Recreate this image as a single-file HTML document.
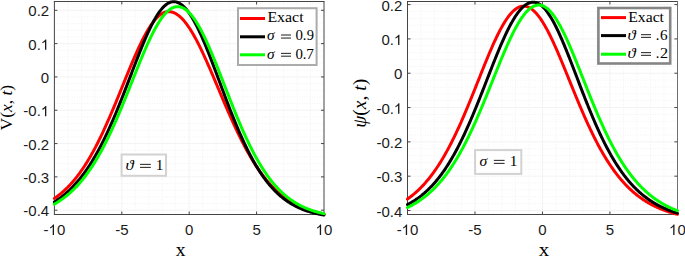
<!DOCTYPE html>
<html><head><meta charset="utf-8"><style>
html,body{margin:0;padding:0;background:#fff;}
body{width:685px;height:256px;overflow:hidden;}
svg{display:block;}
.tk{font-family:"Liberation Sans",sans-serif;font-size:15px;fill:#1a1a1a;}
</style></head><body>
<svg width="685" height="256" viewBox="0 0 685 256">
<rect width="685" height="256" fill="#fff"/>
<line x1="67.88" y1="1.5" x2="67.88" y2="214.5" stroke="#f2f2f2" stroke-dasharray="1 1.5"/>
<line x1="81.36" y1="1.5" x2="81.36" y2="214.5" stroke="#f2f2f2" stroke-dasharray="1 1.5"/>
<line x1="94.84" y1="1.5" x2="94.84" y2="214.5" stroke="#f2f2f2" stroke-dasharray="1 1.5"/>
<line x1="108.32" y1="1.5" x2="108.32" y2="214.5" stroke="#f2f2f2" stroke-dasharray="1 1.5"/>
<line x1="135.28" y1="1.5" x2="135.28" y2="214.5" stroke="#f2f2f2" stroke-dasharray="1 1.5"/>
<line x1="148.76" y1="1.5" x2="148.76" y2="214.5" stroke="#f2f2f2" stroke-dasharray="1 1.5"/>
<line x1="162.24" y1="1.5" x2="162.24" y2="214.5" stroke="#f2f2f2" stroke-dasharray="1 1.5"/>
<line x1="175.72" y1="1.5" x2="175.72" y2="214.5" stroke="#f2f2f2" stroke-dasharray="1 1.5"/>
<line x1="202.68" y1="1.5" x2="202.68" y2="214.5" stroke="#f2f2f2" stroke-dasharray="1 1.5"/>
<line x1="216.16" y1="1.5" x2="216.16" y2="214.5" stroke="#f2f2f2" stroke-dasharray="1 1.5"/>
<line x1="229.64" y1="1.5" x2="229.64" y2="214.5" stroke="#f2f2f2" stroke-dasharray="1 1.5"/>
<line x1="243.12" y1="1.5" x2="243.12" y2="214.5" stroke="#f2f2f2" stroke-dasharray="1 1.5"/>
<line x1="270.08" y1="1.5" x2="270.08" y2="214.5" stroke="#f2f2f2" stroke-dasharray="1 1.5"/>
<line x1="283.56" y1="1.5" x2="283.56" y2="214.5" stroke="#f2f2f2" stroke-dasharray="1 1.5"/>
<line x1="297.04" y1="1.5" x2="297.04" y2="214.5" stroke="#f2f2f2" stroke-dasharray="1 1.5"/>
<line x1="310.52" y1="1.5" x2="310.52" y2="214.5" stroke="#f2f2f2" stroke-dasharray="1 1.5"/>
<line x1="54.4" y1="203.54" x2="324.0" y2="203.54" stroke="#f2f2f2" stroke-dasharray="1 1.5"/>
<line x1="54.4" y1="196.87" x2="324.0" y2="196.87" stroke="#f2f2f2" stroke-dasharray="1 1.5"/>
<line x1="54.4" y1="190.21" x2="324.0" y2="190.21" stroke="#f2f2f2" stroke-dasharray="1 1.5"/>
<line x1="54.4" y1="183.55" x2="324.0" y2="183.55" stroke="#f2f2f2" stroke-dasharray="1 1.5"/>
<line x1="54.4" y1="170.22" x2="324.0" y2="170.22" stroke="#f2f2f2" stroke-dasharray="1 1.5"/>
<line x1="54.4" y1="163.56" x2="324.0" y2="163.56" stroke="#f2f2f2" stroke-dasharray="1 1.5"/>
<line x1="54.4" y1="156.89" x2="324.0" y2="156.89" stroke="#f2f2f2" stroke-dasharray="1 1.5"/>
<line x1="54.4" y1="150.23" x2="324.0" y2="150.23" stroke="#f2f2f2" stroke-dasharray="1 1.5"/>
<line x1="54.4" y1="136.90" x2="324.0" y2="136.90" stroke="#f2f2f2" stroke-dasharray="1 1.5"/>
<line x1="54.4" y1="130.24" x2="324.0" y2="130.24" stroke="#f2f2f2" stroke-dasharray="1 1.5"/>
<line x1="54.4" y1="123.58" x2="324.0" y2="123.58" stroke="#f2f2f2" stroke-dasharray="1 1.5"/>
<line x1="54.4" y1="116.91" x2="324.0" y2="116.91" stroke="#f2f2f2" stroke-dasharray="1 1.5"/>
<line x1="54.4" y1="103.59" x2="324.0" y2="103.59" stroke="#f2f2f2" stroke-dasharray="1 1.5"/>
<line x1="54.4" y1="96.92" x2="324.0" y2="96.92" stroke="#f2f2f2" stroke-dasharray="1 1.5"/>
<line x1="54.4" y1="90.26" x2="324.0" y2="90.26" stroke="#f2f2f2" stroke-dasharray="1 1.5"/>
<line x1="54.4" y1="83.60" x2="324.0" y2="83.60" stroke="#f2f2f2" stroke-dasharray="1 1.5"/>
<line x1="54.4" y1="70.27" x2="324.0" y2="70.27" stroke="#f2f2f2" stroke-dasharray="1 1.5"/>
<line x1="54.4" y1="63.61" x2="324.0" y2="63.61" stroke="#f2f2f2" stroke-dasharray="1 1.5"/>
<line x1="54.4" y1="56.94" x2="324.0" y2="56.94" stroke="#f2f2f2" stroke-dasharray="1 1.5"/>
<line x1="54.4" y1="50.28" x2="324.0" y2="50.28" stroke="#f2f2f2" stroke-dasharray="1 1.5"/>
<line x1="54.4" y1="36.95" x2="324.0" y2="36.95" stroke="#f2f2f2" stroke-dasharray="1 1.5"/>
<line x1="54.4" y1="30.29" x2="324.0" y2="30.29" stroke="#f2f2f2" stroke-dasharray="1 1.5"/>
<line x1="54.4" y1="23.63" x2="324.0" y2="23.63" stroke="#f2f2f2" stroke-dasharray="1 1.5"/>
<line x1="54.4" y1="16.96" x2="324.0" y2="16.96" stroke="#f2f2f2" stroke-dasharray="1 1.5"/>
<line x1="54.4" y1="3.64" x2="324.0" y2="3.64" stroke="#f2f2f2" stroke-dasharray="1 1.5"/>
<line x1="121.80" y1="1.5" x2="121.80" y2="214.5" stroke="#f3f3f3"/>
<line x1="189.20" y1="1.5" x2="189.20" y2="214.5" stroke="#f3f3f3"/>
<line x1="256.60" y1="1.5" x2="256.60" y2="214.5" stroke="#f3f3f3"/>
<line x1="54.4" y1="10.30" x2="324.0" y2="10.30" stroke="#f3f3f3"/>
<line x1="54.4" y1="43.62" x2="324.0" y2="43.62" stroke="#f3f3f3"/>
<line x1="54.4" y1="76.93" x2="324.0" y2="76.93" stroke="#f3f3f3"/>
<line x1="54.4" y1="110.25" x2="324.0" y2="110.25" stroke="#f3f3f3"/>
<line x1="54.4" y1="143.57" x2="324.0" y2="143.57" stroke="#f3f3f3"/>
<line x1="54.4" y1="176.88" x2="324.0" y2="176.88" stroke="#f3f3f3"/>
<line x1="54.4" y1="210.20" x2="324.0" y2="210.20" stroke="#f3f3f3"/>
<line x1="421.00" y1="1.5" x2="421.00" y2="214.5" stroke="#f2f2f2" stroke-dasharray="1 1.5"/>
<line x1="434.49" y1="1.5" x2="434.49" y2="214.5" stroke="#f2f2f2" stroke-dasharray="1 1.5"/>
<line x1="447.99" y1="1.5" x2="447.99" y2="214.5" stroke="#f2f2f2" stroke-dasharray="1 1.5"/>
<line x1="461.48" y1="1.5" x2="461.48" y2="214.5" stroke="#f2f2f2" stroke-dasharray="1 1.5"/>
<line x1="488.47" y1="1.5" x2="488.47" y2="214.5" stroke="#f2f2f2" stroke-dasharray="1 1.5"/>
<line x1="501.96" y1="1.5" x2="501.96" y2="214.5" stroke="#f2f2f2" stroke-dasharray="1 1.5"/>
<line x1="515.46" y1="1.5" x2="515.46" y2="214.5" stroke="#f2f2f2" stroke-dasharray="1 1.5"/>
<line x1="528.96" y1="1.5" x2="528.96" y2="214.5" stroke="#f2f2f2" stroke-dasharray="1 1.5"/>
<line x1="555.94" y1="1.5" x2="555.94" y2="214.5" stroke="#f2f2f2" stroke-dasharray="1 1.5"/>
<line x1="569.44" y1="1.5" x2="569.44" y2="214.5" stroke="#f2f2f2" stroke-dasharray="1 1.5"/>
<line x1="582.93" y1="1.5" x2="582.93" y2="214.5" stroke="#f2f2f2" stroke-dasharray="1 1.5"/>
<line x1="596.43" y1="1.5" x2="596.43" y2="214.5" stroke="#f2f2f2" stroke-dasharray="1 1.5"/>
<line x1="623.42" y1="1.5" x2="623.42" y2="214.5" stroke="#f2f2f2" stroke-dasharray="1 1.5"/>
<line x1="636.91" y1="1.5" x2="636.91" y2="214.5" stroke="#f2f2f2" stroke-dasharray="1 1.5"/>
<line x1="650.41" y1="1.5" x2="650.41" y2="214.5" stroke="#f2f2f2" stroke-dasharray="1 1.5"/>
<line x1="663.90" y1="1.5" x2="663.90" y2="214.5" stroke="#f2f2f2" stroke-dasharray="1 1.5"/>
<line x1="407.5" y1="203.64" x2="677.4" y2="203.64" stroke="#f2f2f2" stroke-dasharray="1 1.5"/>
<line x1="407.5" y1="196.77" x2="677.4" y2="196.77" stroke="#f2f2f2" stroke-dasharray="1 1.5"/>
<line x1="407.5" y1="189.91" x2="677.4" y2="189.91" stroke="#f2f2f2" stroke-dasharray="1 1.5"/>
<line x1="407.5" y1="183.05" x2="677.4" y2="183.05" stroke="#f2f2f2" stroke-dasharray="1 1.5"/>
<line x1="407.5" y1="169.32" x2="677.4" y2="169.32" stroke="#f2f2f2" stroke-dasharray="1 1.5"/>
<line x1="407.5" y1="162.46" x2="677.4" y2="162.46" stroke="#f2f2f2" stroke-dasharray="1 1.5"/>
<line x1="407.5" y1="155.59" x2="677.4" y2="155.59" stroke="#f2f2f2" stroke-dasharray="1 1.5"/>
<line x1="407.5" y1="148.73" x2="677.4" y2="148.73" stroke="#f2f2f2" stroke-dasharray="1 1.5"/>
<line x1="407.5" y1="135.00" x2="677.4" y2="135.00" stroke="#f2f2f2" stroke-dasharray="1 1.5"/>
<line x1="407.5" y1="128.14" x2="677.4" y2="128.14" stroke="#f2f2f2" stroke-dasharray="1 1.5"/>
<line x1="407.5" y1="121.28" x2="677.4" y2="121.28" stroke="#f2f2f2" stroke-dasharray="1 1.5"/>
<line x1="407.5" y1="114.41" x2="677.4" y2="114.41" stroke="#f2f2f2" stroke-dasharray="1 1.5"/>
<line x1="407.5" y1="100.69" x2="677.4" y2="100.69" stroke="#f2f2f2" stroke-dasharray="1 1.5"/>
<line x1="407.5" y1="93.82" x2="677.4" y2="93.82" stroke="#f2f2f2" stroke-dasharray="1 1.5"/>
<line x1="407.5" y1="86.96" x2="677.4" y2="86.96" stroke="#f2f2f2" stroke-dasharray="1 1.5"/>
<line x1="407.5" y1="80.10" x2="677.4" y2="80.10" stroke="#f2f2f2" stroke-dasharray="1 1.5"/>
<line x1="407.5" y1="66.37" x2="677.4" y2="66.37" stroke="#f2f2f2" stroke-dasharray="1 1.5"/>
<line x1="407.5" y1="59.51" x2="677.4" y2="59.51" stroke="#f2f2f2" stroke-dasharray="1 1.5"/>
<line x1="407.5" y1="52.64" x2="677.4" y2="52.64" stroke="#f2f2f2" stroke-dasharray="1 1.5"/>
<line x1="407.5" y1="45.78" x2="677.4" y2="45.78" stroke="#f2f2f2" stroke-dasharray="1 1.5"/>
<line x1="407.5" y1="32.05" x2="677.4" y2="32.05" stroke="#f2f2f2" stroke-dasharray="1 1.5"/>
<line x1="407.5" y1="25.19" x2="677.4" y2="25.19" stroke="#f2f2f2" stroke-dasharray="1 1.5"/>
<line x1="407.5" y1="18.33" x2="677.4" y2="18.33" stroke="#f2f2f2" stroke-dasharray="1 1.5"/>
<line x1="407.5" y1="11.46" x2="677.4" y2="11.46" stroke="#f2f2f2" stroke-dasharray="1 1.5"/>
<line x1="474.98" y1="1.5" x2="474.98" y2="214.5" stroke="#f3f3f3"/>
<line x1="542.45" y1="1.5" x2="542.45" y2="214.5" stroke="#f3f3f3"/>
<line x1="609.92" y1="1.5" x2="609.92" y2="214.5" stroke="#f3f3f3"/>
<line x1="407.5" y1="4.60" x2="677.4" y2="4.60" stroke="#f3f3f3"/>
<line x1="407.5" y1="38.92" x2="677.4" y2="38.92" stroke="#f3f3f3"/>
<line x1="407.5" y1="73.23" x2="677.4" y2="73.23" stroke="#f3f3f3"/>
<line x1="407.5" y1="107.55" x2="677.4" y2="107.55" stroke="#f3f3f3"/>
<line x1="407.5" y1="141.87" x2="677.4" y2="141.87" stroke="#f3f3f3"/>
<line x1="407.5" y1="176.18" x2="677.4" y2="176.18" stroke="#f3f3f3"/>
<line x1="407.5" y1="210.50" x2="677.4" y2="210.50" stroke="#f3f3f3"/>
<line x1="53.9" y1="1.5" x2="324.5" y2="1.5" stroke="#444444"/>
<line x1="53.9" y1="214.5" x2="324.5" y2="214.5" stroke="#444444"/>
<line x1="54.4" y1="1.5" x2="54.4" y2="214.5" stroke="#444444"/>
<line x1="324.0" y1="1.5" x2="324.0" y2="214.5" stroke="#444444"/>
<line x1="121.80" y1="214.5" x2="121.80" y2="211.5" stroke="#444444"/>
<line x1="121.80" y1="1.5" x2="121.80" y2="4.5" stroke="#444444"/>
<line x1="189.20" y1="214.5" x2="189.20" y2="211.5" stroke="#444444"/>
<line x1="189.20" y1="1.5" x2="189.20" y2="4.5" stroke="#444444"/>
<line x1="256.60" y1="214.5" x2="256.60" y2="211.5" stroke="#444444"/>
<line x1="256.60" y1="1.5" x2="256.60" y2="4.5" stroke="#444444"/>
<line x1="54.4" y1="10.30" x2="57.4" y2="10.30" stroke="#444444"/>
<line x1="324.0" y1="10.30" x2="321.0" y2="10.30" stroke="#444444"/>
<line x1="54.4" y1="43.62" x2="57.4" y2="43.62" stroke="#444444"/>
<line x1="324.0" y1="43.62" x2="321.0" y2="43.62" stroke="#444444"/>
<line x1="54.4" y1="76.93" x2="57.4" y2="76.93" stroke="#444444"/>
<line x1="324.0" y1="76.93" x2="321.0" y2="76.93" stroke="#444444"/>
<line x1="54.4" y1="110.25" x2="57.4" y2="110.25" stroke="#444444"/>
<line x1="324.0" y1="110.25" x2="321.0" y2="110.25" stroke="#444444"/>
<line x1="54.4" y1="143.57" x2="57.4" y2="143.57" stroke="#444444"/>
<line x1="324.0" y1="143.57" x2="321.0" y2="143.57" stroke="#444444"/>
<line x1="54.4" y1="176.88" x2="57.4" y2="176.88" stroke="#444444"/>
<line x1="324.0" y1="176.88" x2="321.0" y2="176.88" stroke="#444444"/>
<line x1="54.4" y1="210.20" x2="57.4" y2="210.20" stroke="#444444"/>
<line x1="324.0" y1="210.20" x2="321.0" y2="210.20" stroke="#444444"/>
<text x="28.35" y="16.40" class="tk">0</text><text x="36.69" y="16.40" class="tk">.</text><text x="40.86" y="16.40" class="tk">2</text>
<text x="28.35" y="49.72" class="tk">0</text><text x="36.69" y="49.72" class="tk">.</text><path transform="translate(40.86,49.72) scale(0.00732,-0.00732)" d="M745,0H565V1100Q500,1040 395,980Q290,920 206,890V1060Q357,1130 470,1230Q583,1330 630,1409H745Z" fill="#1a1a1a"/>
<text x="40.86" y="83.03" class="tk">0</text>
<text x="23.35" y="116.35" class="tk">-</text><text x="28.35" y="116.35" class="tk">0</text><text x="36.69" y="116.35" class="tk">.</text><path transform="translate(40.86,116.35) scale(0.00732,-0.00732)" d="M745,0H565V1100Q500,1040 395,980Q290,920 206,890V1060Q357,1130 470,1230Q583,1330 630,1409H745Z" fill="#1a1a1a"/>
<text x="23.35" y="149.67" class="tk">-</text><text x="28.35" y="149.67" class="tk">0</text><text x="36.69" y="149.67" class="tk">.</text><text x="40.86" y="149.67" class="tk">2</text>
<text x="23.35" y="182.98" class="tk">-</text><text x="28.35" y="182.98" class="tk">0</text><text x="36.69" y="182.98" class="tk">.</text><text x="40.86" y="182.98" class="tk">3</text>
<text x="23.35" y="216.30" class="tk">-</text><text x="28.35" y="216.30" class="tk">0</text><text x="36.69" y="216.30" class="tk">.</text><text x="40.86" y="216.30" class="tk">4</text>
<text x="43.56" y="234.90" class="tk">-</text><path transform="translate(48.56,234.90) scale(0.00732,-0.00732)" d="M745,0H565V1100Q500,1040 395,980Q290,920 206,890V1060Q357,1130 470,1230Q583,1330 630,1409H745Z" fill="#1a1a1a"/><text x="56.90" y="234.90" class="tk">0</text>
<text x="115.13" y="234.90" class="tk">-</text><text x="120.13" y="234.90" class="tk">5</text>
<text x="185.03" y="234.90" class="tk">0</text>
<text x="252.43" y="234.90" class="tk">5</text>
<path transform="translate(315.66,234.90) scale(0.00732,-0.00732)" d="M745,0H565V1100Q500,1040 395,980Q290,920 206,890V1060Q357,1130 470,1230Q583,1330 630,1409H745Z" fill="#1a1a1a"/><text x="324.00" y="234.90" class="tk">0</text>
<line x1="407.0" y1="1.5" x2="677.9" y2="1.5" stroke="#444444"/>
<line x1="407.0" y1="214.5" x2="677.9" y2="214.5" stroke="#444444"/>
<line x1="407.5" y1="1.5" x2="407.5" y2="214.5" stroke="#444444"/>
<line x1="677.5" y1="1.5" x2="677.5" y2="214.5" stroke="#707070"/>
<line x1="474.98" y1="214.5" x2="474.98" y2="211.5" stroke="#444444"/>
<line x1="474.98" y1="1.5" x2="474.98" y2="4.5" stroke="#444444"/>
<line x1="542.45" y1="214.5" x2="542.45" y2="211.5" stroke="#444444"/>
<line x1="542.45" y1="1.5" x2="542.45" y2="4.5" stroke="#444444"/>
<line x1="609.92" y1="214.5" x2="609.92" y2="211.5" stroke="#444444"/>
<line x1="609.92" y1="1.5" x2="609.92" y2="4.5" stroke="#444444"/>
<line x1="407.5" y1="4.60" x2="410.5" y2="4.60" stroke="#444444"/>
<line x1="677.4" y1="4.60" x2="674.4" y2="4.60" stroke="#444444"/>
<line x1="407.5" y1="38.92" x2="410.5" y2="38.92" stroke="#444444"/>
<line x1="677.4" y1="38.92" x2="674.4" y2="38.92" stroke="#444444"/>
<line x1="407.5" y1="73.23" x2="410.5" y2="73.23" stroke="#444444"/>
<line x1="677.4" y1="73.23" x2="674.4" y2="73.23" stroke="#444444"/>
<line x1="407.5" y1="107.55" x2="410.5" y2="107.55" stroke="#444444"/>
<line x1="677.4" y1="107.55" x2="674.4" y2="107.55" stroke="#444444"/>
<line x1="407.5" y1="141.87" x2="410.5" y2="141.87" stroke="#444444"/>
<line x1="677.4" y1="141.87" x2="674.4" y2="141.87" stroke="#444444"/>
<line x1="407.5" y1="176.18" x2="410.5" y2="176.18" stroke="#444444"/>
<line x1="677.4" y1="176.18" x2="674.4" y2="176.18" stroke="#444444"/>
<line x1="407.5" y1="210.50" x2="410.5" y2="210.50" stroke="#444444"/>
<line x1="677.4" y1="210.50" x2="674.4" y2="210.50" stroke="#444444"/>
<text x="381.45" y="10.70" class="tk">0</text><text x="389.79" y="10.70" class="tk">.</text><text x="393.96" y="10.70" class="tk">2</text>
<text x="381.45" y="45.02" class="tk">0</text><text x="389.79" y="45.02" class="tk">.</text><path transform="translate(393.96,45.02) scale(0.00732,-0.00732)" d="M745,0H565V1100Q500,1040 395,980Q290,920 206,890V1060Q357,1130 470,1230Q583,1330 630,1409H745Z" fill="#1a1a1a"/>
<text x="393.96" y="79.33" class="tk">0</text>
<text x="376.45" y="113.65" class="tk">-</text><text x="381.45" y="113.65" class="tk">0</text><text x="389.79" y="113.65" class="tk">.</text><path transform="translate(393.96,113.65) scale(0.00732,-0.00732)" d="M745,0H565V1100Q500,1040 395,980Q290,920 206,890V1060Q357,1130 470,1230Q583,1330 630,1409H745Z" fill="#1a1a1a"/>
<text x="376.45" y="147.97" class="tk">-</text><text x="381.45" y="147.97" class="tk">0</text><text x="389.79" y="147.97" class="tk">.</text><text x="393.96" y="147.97" class="tk">2</text>
<text x="376.45" y="182.28" class="tk">-</text><text x="381.45" y="182.28" class="tk">0</text><text x="389.79" y="182.28" class="tk">.</text><text x="393.96" y="182.28" class="tk">3</text>
<text x="376.45" y="216.60" class="tk">-</text><text x="381.45" y="216.60" class="tk">0</text><text x="389.79" y="216.60" class="tk">.</text><text x="393.96" y="216.60" class="tk">4</text>
<text x="396.66" y="234.90" class="tk">-</text><path transform="translate(401.66,234.90) scale(0.00732,-0.00732)" d="M745,0H565V1100Q500,1040 395,980Q290,920 206,890V1060Q357,1130 470,1230Q583,1330 630,1409H745Z" fill="#1a1a1a"/><text x="410.00" y="234.90" class="tk">0</text>
<text x="468.31" y="234.90" class="tk">-</text><text x="473.30" y="234.90" class="tk">5</text>
<text x="538.28" y="234.90" class="tk">0</text>
<text x="605.75" y="234.90" class="tk">5</text>
<path transform="translate(669.06,234.90) scale(0.00732,-0.00732)" d="M745,0H565V1100Q500,1040 395,980Q290,920 206,890V1060Q357,1130 470,1230Q583,1330 630,1409H745Z" fill="#1a1a1a"/><text x="677.40" y="234.90" class="tk">0</text>
<polyline points="54.40,198.38 55.07,197.92 55.75,197.45 56.42,196.96 57.10,196.47 57.77,195.96 58.44,195.45 59.12,194.92 59.79,194.39 60.47,193.84 61.14,193.29 61.81,192.72 62.49,192.14 63.16,191.55 63.84,190.94 64.51,190.33 65.18,189.70 65.86,189.06 66.53,188.41 67.21,187.75 67.88,187.07 68.55,186.38 69.23,185.68 69.90,184.97 70.58,184.24 71.25,183.50 71.92,182.75 72.60,181.98 73.27,181.20 73.95,180.40 74.62,179.59 75.29,178.77 75.97,177.93 76.64,177.08 77.32,176.22 77.99,175.33 78.66,174.44 79.34,173.53 80.01,172.61 80.69,171.67 81.36,170.71 82.03,169.74 82.71,168.76 83.38,167.76 84.06,166.74 84.73,165.71 85.40,164.67 86.08,163.60 86.75,162.53 87.43,161.44 88.10,160.33 88.77,159.20 89.45,158.07 90.12,156.91 90.80,155.74 91.47,154.56 92.14,153.35 92.82,152.14 93.49,150.91 94.17,149.66 94.84,148.40 95.51,147.12 96.19,145.83 96.86,144.52 97.54,143.20 98.21,141.86 98.88,140.51 99.56,139.15 100.23,137.77 100.91,136.37 101.58,134.97 102.25,133.54 102.93,132.11 103.60,130.66 104.28,129.20 104.95,127.73 105.62,126.24 106.30,124.74 106.97,123.23 107.65,121.71 108.32,120.18 108.99,118.64 109.67,117.08 110.34,115.52 111.02,113.95 111.69,112.36 112.36,110.77 113.04,109.17 113.71,107.57 114.39,105.95 115.06,104.33 115.73,102.70 116.41,101.07 117.08,99.42 117.76,97.78 118.43,96.13 119.10,94.48 119.78,92.82 120.45,91.16 121.13,89.50 121.80,87.84 122.47,86.18 123.15,84.51 123.82,82.85 124.50,81.19 125.17,79.53 125.84,77.87 126.52,76.22 127.19,74.57 127.87,72.93 128.54,71.29 129.21,69.65 129.89,68.03 130.56,66.41 131.24,64.80 131.91,63.20 132.58,61.61 133.26,60.03 133.93,58.47 134.61,56.91 135.28,55.37 135.95,53.84 136.63,52.33 137.30,50.84 137.98,49.36 138.65,47.89 139.32,46.45 140.00,45.03 140.67,43.62 141.35,42.24 142.02,40.87 142.69,39.53 143.37,38.21 144.04,36.92 144.72,35.65 145.39,34.41 146.06,33.19 146.74,32.00 147.41,30.83 148.09,29.70 148.76,28.59 149.43,27.51 150.11,26.46 150.78,25.45 151.46,24.46 152.13,23.51 152.80,22.59 153.48,21.71 154.15,20.86 154.83,20.04 155.50,19.26 156.17,18.51 156.85,17.80 157.52,17.13 158.20,16.49 158.87,15.90 159.54,15.34 160.22,14.81 160.89,14.33 161.57,13.89 162.24,13.48 162.91,13.11 163.59,12.79 164.26,12.50 164.94,12.26 165.61,12.05 166.28,11.89 166.96,11.77 167.63,11.68 168.31,11.64 168.98,11.64 169.65,11.67 170.33,11.75 171.00,11.85 171.68,12.00 172.35,12.18 173.02,12.39 173.70,12.65 174.37,12.94 175.05,13.26 175.72,13.62 176.39,14.01 177.07,14.44 177.74,14.91 178.42,15.40 179.09,15.94 179.76,16.50 180.44,17.10 181.11,17.74 181.79,18.40 182.46,19.10 183.13,19.83 183.81,20.59 184.48,21.39 185.16,22.21 185.83,23.06 186.50,23.95 187.18,24.86 187.85,25.80 188.53,26.77 189.20,27.77 189.87,28.80 190.55,29.85 191.22,30.93 191.90,32.03 192.57,33.16 193.24,34.31 193.92,35.49 194.59,36.69 195.27,37.91 195.94,39.16 196.61,40.42 197.29,41.71 197.96,43.02 198.64,44.34 199.31,45.69 199.98,47.05 200.66,48.43 201.33,49.82 202.01,51.23 202.68,52.66 203.35,54.10 204.03,55.56 204.70,57.03 205.38,58.51 206.05,60.00 206.72,61.51 207.40,63.02 208.07,64.55 208.75,66.08 209.42,67.63 210.09,69.18 210.77,70.74 211.44,72.30 212.12,73.87 212.79,75.45 213.46,77.03 214.14,78.62 214.81,80.20 215.49,81.80 216.16,83.39 216.83,84.99 217.51,86.58 218.18,88.18 218.86,89.78 219.53,91.37 220.20,92.97 220.88,94.56 221.55,96.16 222.23,97.75 222.90,99.33 223.57,100.91 224.25,102.49 224.92,104.07 225.60,105.63 226.27,107.20 226.94,108.75 227.62,110.30 228.29,111.85 228.97,113.38 229.64,114.91 230.31,116.43 230.99,117.95 231.66,119.45 232.34,120.94 233.01,122.43 233.68,123.90 234.36,125.37 235.03,126.82 235.71,128.27 236.38,129.70 237.05,131.12 237.73,132.53 238.40,133.93 239.08,135.32 239.75,136.69 240.42,138.05 241.10,139.40 241.77,140.74 242.45,142.06 243.12,143.37 243.79,144.67 244.47,145.95 245.14,147.22 245.82,148.48 246.49,149.72 247.16,150.95 247.84,152.17 248.51,153.37 249.19,154.56 249.86,155.73 250.53,156.89 251.21,158.03 251.88,159.16 252.56,160.28 253.23,161.38 253.90,162.47 254.58,163.54 255.25,164.60 255.93,165.64 256.60,166.67 257.27,167.68 257.95,168.68 258.62,169.67 259.30,170.64 259.97,171.60 260.64,172.54 261.32,173.47 261.99,174.38 262.67,175.28 263.34,176.17 264.01,177.04 264.69,177.90 265.36,178.75 266.04,179.58 266.71,180.40 267.38,181.20 268.06,181.99 268.73,182.77 269.41,183.54 270.08,184.29 270.75,185.03 271.43,185.75 272.10,186.47 272.78,187.17 273.45,187.86 274.12,188.53 274.80,189.20 275.47,189.85 276.15,190.49 276.82,191.12 277.49,191.73 278.17,192.34 278.84,192.93 279.52,193.52 280.19,194.09 280.86,194.65 281.54,195.20 282.21,195.74 282.89,196.26 283.56,196.78 284.23,197.29 284.91,197.79 285.58,198.28 286.26,198.75 286.93,199.22 287.60,199.68 288.28,200.13 288.95,200.57 289.63,201.00 290.30,201.42 290.97,201.84 291.65,202.24 292.32,202.64 293.00,203.02 293.67,203.40 294.34,203.77 295.02,204.14 295.69,204.49 296.37,204.84 297.04,205.18 297.71,205.51 298.39,205.84 299.06,206.15 299.74,206.47 300.41,206.77 301.08,207.07 301.76,207.36 302.43,207.64 303.11,207.92 303.78,208.19 304.45,208.45 305.13,208.71 305.80,208.97 306.48,209.21 307.15,209.45 307.82,209.69 308.50,209.92 309.17,210.14 309.85,210.36 310.52,210.58 311.19,210.79 311.87,210.99 312.54,211.19 313.22,211.38 313.89,211.57 314.56,211.76 315.24,211.94 315.91,212.12 316.59,212.29 317.26,212.46 317.93,212.62 318.61,212.78 319.28,212.94 319.96,213.09 320.63,213.24 321.30,213.38 321.98,213.52 322.65,213.66 323.33,213.79 324.00,213.92" fill="none" stroke="#ff0000" stroke-width="3" stroke-linejoin="round" stroke-linecap="round"/>
<polyline points="54.40,202.08 55.07,201.64 55.75,201.20 56.42,200.74 57.10,200.28 57.77,199.81 58.44,199.33 59.12,198.84 59.79,198.34 60.47,197.83 61.14,197.32 61.81,196.79 62.49,196.26 63.16,195.71 63.84,195.16 64.51,194.59 65.18,194.02 65.86,193.43 66.53,192.84 67.21,192.24 67.88,191.62 68.55,190.99 69.23,190.36 69.90,189.71 70.58,189.05 71.25,188.38 71.92,187.70 72.60,187.00 73.27,186.30 73.95,185.58 74.62,184.85 75.29,184.11 75.97,183.36 76.64,182.59 77.32,181.81 77.99,181.02 78.66,180.22 79.34,179.40 80.01,178.57 80.69,177.72 81.36,176.87 82.03,176.00 82.71,175.11 83.38,174.21 84.06,173.30 84.73,172.37 85.40,171.43 86.08,170.48 86.75,169.51 87.43,168.52 88.10,167.53 88.77,166.51 89.45,165.48 90.12,164.44 90.80,163.38 91.47,162.31 92.14,161.22 92.82,160.12 93.49,159.00 94.17,157.86 94.84,156.71 95.51,155.55 96.19,154.36 96.86,153.17 97.54,151.95 98.21,150.73 98.88,149.48 99.56,148.22 100.23,146.95 100.91,145.66 101.58,144.35 102.25,143.03 102.93,141.69 103.60,140.34 104.28,138.97 104.95,137.59 105.62,136.19 106.30,134.77 106.97,133.34 107.65,131.90 108.32,130.44 108.99,128.97 109.67,127.48 110.34,125.98 111.02,124.46 111.69,122.93 112.36,121.39 113.04,119.83 113.71,118.26 114.39,116.68 115.06,115.08 115.73,113.47 116.41,111.85 117.08,110.22 117.76,108.58 118.43,106.92 119.10,105.26 119.78,103.59 120.45,101.90 121.13,100.21 121.80,98.51 122.47,96.80 123.15,95.08 123.82,93.36 124.50,91.63 125.17,89.89 125.84,88.15 126.52,86.40 127.19,84.65 127.87,82.89 128.54,81.13 129.21,79.37 129.89,77.61 130.56,75.85 131.24,74.09 131.91,72.32 132.58,70.56 133.26,68.80 133.93,67.05 134.61,65.30 135.28,63.55 135.95,61.81 136.63,60.07 137.30,58.35 137.98,56.63 138.65,54.92 139.32,53.22 140.00,51.53 140.67,49.85 141.35,48.19 142.02,46.54 142.69,44.90 143.37,43.28 144.04,41.68 144.72,40.09 145.39,38.53 146.06,36.98 146.74,35.45 147.41,33.95 148.09,32.47 148.76,31.01 149.43,29.58 150.11,28.17 150.78,26.79 151.46,25.44 152.13,24.11 152.80,22.82 153.48,21.55 154.15,20.32 154.83,19.12 155.50,17.95 156.17,16.82 156.85,15.72 157.52,14.66 158.20,13.64 158.87,12.65 159.54,11.70 160.22,10.79 160.89,9.92 161.57,9.09 162.24,8.30 162.91,7.55 163.59,6.85 164.26,6.19 164.94,5.57 165.61,5.00 166.28,4.47 166.96,3.98 167.63,3.54 168.31,3.15 168.98,2.80 169.65,2.50 170.33,2.24 171.00,2.04 171.68,1.88 172.35,1.76 173.02,1.70 173.70,1.68 174.37,1.70 175.05,1.77 175.72,1.89 176.39,2.05 177.07,2.25 177.74,2.50 178.42,2.79 179.09,3.12 179.76,3.50 180.44,3.92 181.11,4.38 181.79,4.89 182.46,5.44 183.13,6.03 183.81,6.66 184.48,7.33 185.16,8.04 185.83,8.80 186.50,9.59 187.18,10.42 187.85,11.29 188.53,12.19 189.20,13.14 189.87,14.12 190.55,15.14 191.22,16.19 191.90,17.28 192.57,18.40 193.24,19.55 193.92,20.74 194.59,21.96 195.27,23.21 195.94,24.49 196.61,25.80 197.29,27.13 197.96,28.50 198.64,29.89 199.31,31.31 199.98,32.76 200.66,34.23 201.33,35.72 202.01,37.24 202.68,38.77 203.35,40.33 204.03,41.91 204.70,43.51 205.38,45.13 206.05,46.76 206.72,48.41 207.40,50.08 208.07,51.76 208.75,53.46 209.42,55.16 210.09,56.89 210.77,58.62 211.44,60.36 212.12,62.11 212.79,63.88 213.46,65.65 214.14,67.42 214.81,69.20 215.49,70.99 216.16,72.79 216.83,74.58 217.51,76.38 218.18,78.19 218.86,79.99 219.53,81.79 220.20,83.60 220.88,85.40 221.55,87.21 222.23,89.01 222.90,90.80 223.57,92.60 224.25,94.39 224.92,96.17 225.60,97.95 226.27,99.73 226.94,101.49 227.62,103.25 228.29,105.01 228.97,106.75 229.64,108.49 230.31,110.21 230.99,111.93 231.66,113.63 232.34,115.33 233.01,117.01 233.68,118.68 234.36,120.34 235.03,121.99 235.71,123.63 236.38,125.25 237.05,126.85 237.73,128.45 238.40,130.03 239.08,131.59 239.75,133.14 240.42,134.68 241.10,136.20 241.77,137.70 242.45,139.19 243.12,140.66 243.79,142.11 244.47,143.55 245.14,144.98 245.82,146.38 246.49,147.77 247.16,149.14 247.84,150.50 248.51,151.84 249.19,153.16 249.86,154.46 250.53,155.75 251.21,157.01 251.88,158.26 252.56,159.50 253.23,160.71 253.90,161.91 254.58,163.09 255.25,164.26 255.93,165.40 256.60,166.53 257.27,167.64 257.95,168.73 258.62,169.81 259.30,170.87 259.97,171.91 260.64,172.93 261.32,173.94 261.99,174.93 262.67,175.90 263.34,176.86 264.01,177.80 264.69,178.73 265.36,179.63 266.04,180.52 266.71,181.40 267.38,182.26 268.06,183.10 268.73,183.93 269.41,184.74 270.08,185.54 270.75,186.32 271.43,187.09 272.10,187.84 272.78,188.58 273.45,189.30 274.12,190.01 274.80,190.70 275.47,191.38 276.15,192.05 276.82,192.70 277.49,193.34 278.17,193.97 278.84,194.58 279.52,195.18 280.19,195.77 280.86,196.35 281.54,196.91 282.21,197.46 282.89,198.00 283.56,198.53 284.23,199.04 284.91,199.55 285.58,200.04 286.26,200.52 286.93,200.99 287.60,201.46 288.28,201.91 288.95,202.35 289.63,202.78 290.30,203.20 290.97,203.61 291.65,204.01 292.32,204.40 293.00,204.78 293.67,205.15 294.34,205.52 295.02,205.87 295.69,206.22 296.37,206.56 297.04,206.89 297.71,207.21 298.39,207.53 299.06,207.84 299.74,208.14 300.41,208.43 301.08,208.71 301.76,208.99 302.43,209.26 303.11,209.53 303.78,209.78 304.45,210.04 305.13,210.28 305.80,210.52 306.48,210.75 307.15,210.98 307.82,211.20 308.50,211.41 309.17,211.62 309.85,211.83 310.52,212.02 311.19,212.22 311.87,212.41 312.54,212.59 313.22,212.77 313.89,212.94 314.56,213.11 315.24,213.28 315.91,213.44 316.59,213.59 317.26,213.74 317.93,213.89 318.61,214.04 319.28,214.18 319.96,214.31 320.63,214.44 321.30,214.57 321.98,214.70 322.65,214.82 323.33,214.94 324.00,215.05" fill="none" stroke="#000000" stroke-width="3" stroke-linejoin="round" stroke-linecap="round"/>
<polyline points="54.40,204.13 55.07,203.74 55.75,203.34 56.42,202.93 57.10,202.52 57.77,202.10 58.44,201.67 59.12,201.23 59.79,200.78 60.47,200.32 61.14,199.86 61.81,199.38 62.49,198.90 63.16,198.41 63.84,197.90 64.51,197.39 65.18,196.87 65.86,196.34 66.53,195.80 67.21,195.24 67.88,194.68 68.55,194.11 69.23,193.53 69.90,192.93 70.58,192.33 71.25,191.71 71.92,191.08 72.60,190.44 73.27,189.79 73.95,189.13 74.62,188.46 75.29,187.77 75.97,187.08 76.64,186.37 77.32,185.64 77.99,184.91 78.66,184.16 79.34,183.40 80.01,182.63 80.69,181.84 81.36,181.04 82.03,180.23 82.71,179.41 83.38,178.57 84.06,177.71 84.73,176.85 85.40,175.97 86.08,175.07 86.75,174.16 87.43,173.24 88.10,172.30 88.77,171.35 89.45,170.39 90.12,169.41 90.80,168.41 91.47,167.40 92.14,166.38 92.82,165.34 93.49,164.28 94.17,163.21 94.84,162.13 95.51,161.03 96.19,159.91 96.86,158.78 97.54,157.64 98.21,156.48 98.88,155.30 99.56,154.11 100.23,152.91 100.91,151.69 101.58,150.45 102.25,149.20 102.93,147.93 103.60,146.65 104.28,145.36 104.95,144.05 105.62,142.72 106.30,141.38 106.97,140.02 107.65,138.66 108.32,137.27 108.99,135.87 109.67,134.46 110.34,133.04 111.02,131.60 111.69,130.15 112.36,128.68 113.04,127.20 113.71,125.71 114.39,124.21 115.06,122.69 115.73,121.16 116.41,119.62 117.08,118.07 117.76,116.51 118.43,114.94 119.10,113.35 119.78,111.76 120.45,110.16 121.13,108.55 121.80,106.93 122.47,105.30 123.15,103.66 123.82,102.02 124.50,100.36 125.17,98.71 125.84,97.04 126.52,95.37 127.19,93.70 127.87,92.02 128.54,90.34 129.21,88.65 129.89,86.97 130.56,85.28 131.24,83.58 131.91,81.89 132.58,80.20 133.26,78.51 133.93,76.82 134.61,75.13 135.28,73.44 135.95,71.76 136.63,70.08 137.30,68.41 137.98,66.74 138.65,65.08 139.32,63.43 140.00,61.78 140.67,60.15 141.35,58.52 142.02,56.90 142.69,55.30 143.37,53.70 144.04,52.12 144.72,50.55 145.39,49.00 146.06,47.46 146.74,45.94 147.41,44.44 148.09,42.95 148.76,41.48 149.43,40.04 150.11,38.61 150.78,37.20 151.46,35.82 152.13,34.45 152.80,33.12 153.48,31.80 154.15,30.52 154.83,29.25 155.50,28.02 156.17,26.81 156.85,25.63 157.52,24.48 158.20,23.36 158.87,22.28 159.54,21.22 160.22,20.19 160.89,19.20 161.57,18.24 162.24,17.32 162.91,16.43 163.59,15.57 164.26,14.76 164.94,13.97 165.61,13.23 166.28,12.52 166.96,11.85 167.63,11.22 168.31,10.63 168.98,10.08 169.65,9.57 170.33,9.09 171.00,8.66 171.68,8.27 172.35,7.92 173.02,7.61 173.70,7.35 174.37,7.12 175.05,6.94 175.72,6.80 176.39,6.70 177.07,6.64 177.74,6.63 178.42,6.66 179.09,6.73 179.76,6.84 180.44,6.99 181.11,7.19 181.79,7.42 182.46,7.70 183.13,8.02 183.81,8.38 184.48,8.78 185.16,9.22 185.83,9.70 186.50,10.22 187.18,10.78 187.85,11.38 188.53,12.02 189.20,12.70 189.87,13.41 190.55,14.16 191.22,14.95 191.90,15.78 192.57,16.64 193.24,17.53 193.92,18.46 194.59,19.43 195.27,20.43 195.94,21.46 196.61,22.52 197.29,23.62 197.96,24.75 198.64,25.91 199.31,27.09 199.98,28.31 200.66,29.55 201.33,30.82 202.01,32.12 202.68,33.45 203.35,34.80 204.03,36.17 204.70,37.57 205.38,38.99 206.05,40.43 206.72,41.90 207.40,43.38 208.07,44.88 208.75,46.41 209.42,47.95 210.09,49.50 210.77,51.08 211.44,52.67 212.12,54.27 212.79,55.89 213.46,57.52 214.14,59.16 214.81,60.82 215.49,62.48 216.16,64.16 216.83,65.84 217.51,67.53 218.18,69.23 218.86,70.94 219.53,72.65 220.20,74.37 220.88,76.09 221.55,77.82 222.23,79.54 222.90,81.27 223.57,83.01 224.25,84.74 224.92,86.47 225.60,88.20 226.27,89.93 226.94,91.66 227.62,93.39 228.29,95.11 228.97,96.83 229.64,98.54 230.31,100.25 230.99,101.96 231.66,103.66 232.34,105.35 233.01,107.03 233.68,108.71 234.36,110.37 235.03,112.03 235.71,113.68 236.38,115.32 237.05,116.95 237.73,118.57 238.40,120.18 239.08,121.78 239.75,123.37 240.42,124.94 241.10,126.50 241.77,128.05 242.45,129.58 243.12,131.11 243.79,132.62 244.47,134.11 245.14,135.59 245.82,137.06 246.49,138.51 247.16,139.95 247.84,141.37 248.51,142.77 249.19,144.17 249.86,145.54 250.53,146.90 251.21,148.25 251.88,149.57 252.56,150.89 253.23,152.18 253.90,153.46 254.58,154.72 255.25,155.97 255.93,157.20 256.60,158.42 257.27,159.61 257.95,160.79 258.62,161.96 259.30,163.11 259.97,164.24 260.64,165.35 261.32,166.45 261.99,167.53 262.67,168.60 263.34,169.65 264.01,170.68 264.69,171.69 265.36,172.69 266.04,173.68 266.71,174.64 267.38,175.60 268.06,176.53 268.73,177.45 269.41,178.36 270.08,179.25 270.75,180.12 271.43,180.98 272.10,181.82 272.78,182.65 273.45,183.46 274.12,184.26 274.80,185.04 275.47,185.81 276.15,186.57 276.82,187.31 277.49,188.03 278.17,188.74 278.84,189.44 279.52,190.13 280.19,190.80 280.86,191.46 281.54,192.10 282.21,192.74 282.89,193.36 283.56,193.96 284.23,194.56 284.91,195.14 285.58,195.71 286.26,196.27 286.93,196.82 287.60,197.35 288.28,197.88 288.95,198.39 289.63,198.89 290.30,199.39 290.97,199.87 291.65,200.34 292.32,200.80 293.00,201.25 293.67,201.69 294.34,202.12 295.02,202.54 295.69,202.95 296.37,203.35 297.04,203.74 297.71,204.12 298.39,204.50 299.06,204.86 299.74,205.22 300.41,205.57 301.08,205.91 301.76,206.24 302.43,206.57 303.11,206.89 303.78,207.20 304.45,207.50 305.13,207.79 305.80,208.08 306.48,208.36 307.15,208.64 307.82,208.90 308.50,209.17 309.17,209.42 309.85,209.67 310.52,209.91 311.19,210.15 311.87,210.38 312.54,210.60 313.22,210.82 313.89,211.03 314.56,211.24 315.24,211.44 315.91,211.64 316.59,211.83 317.26,212.02 317.93,212.20 318.61,212.38 319.28,212.56 319.96,212.72 320.63,212.89 321.30,213.05 321.98,213.21 322.65,213.36 323.33,213.51 324.00,213.65" fill="none" stroke="#00ff00" stroke-width="3" stroke-linejoin="round" stroke-linecap="round"/>
<polyline points="407.50,199.04 408.17,198.56 408.85,198.07 409.52,197.57 410.20,197.06 410.87,196.54 411.55,196.01 412.22,195.47 412.90,194.92 413.57,194.36 414.25,193.79 414.92,193.21 415.60,192.62 416.27,192.02 416.95,191.41 417.62,190.79 418.30,190.15 418.97,189.50 419.65,188.85 420.32,188.18 421.00,187.50 421.67,186.80 422.34,186.10 423.02,185.38 423.69,184.65 424.37,183.91 425.04,183.15 425.72,182.38 426.39,181.60 427.07,180.81 427.74,180.00 428.42,179.18 429.09,178.35 429.77,177.50 430.44,176.64 431.12,175.77 431.79,174.88 432.47,173.97 433.14,173.06 433.82,172.13 434.49,171.18 435.16,170.22 435.84,169.25 436.51,168.26 437.19,167.25 437.86,166.24 438.54,165.20 439.21,164.16 439.89,163.09 440.56,162.01 441.24,160.92 441.91,159.81 442.59,158.69 443.26,157.55 443.94,156.40 444.61,155.23 445.29,154.05 445.96,152.85 446.64,151.63 447.31,150.40 447.99,149.16 448.66,147.90 449.33,146.62 450.01,145.34 450.68,144.03 451.36,142.71 452.03,141.38 452.71,140.03 453.38,138.67 454.06,137.29 454.73,135.90 455.41,134.49 456.08,133.07 456.76,131.64 457.43,130.19 458.11,128.73 458.78,127.26 459.46,125.78 460.13,124.28 460.81,122.77 461.48,121.24 462.15,119.71 462.83,118.16 463.50,116.60 464.18,115.03 464.85,113.46 465.53,111.87 466.20,110.27 466.88,108.66 467.55,107.04 468.23,105.41 468.90,103.78 469.58,102.14 470.25,100.49 470.93,98.83 471.60,97.17 472.28,95.50 472.95,93.83 473.63,92.15 474.30,90.47 474.98,88.78 475.65,87.10 476.32,85.40 477.00,83.71 477.67,82.02 478.35,80.33 479.02,78.63 479.70,76.94 480.37,75.25 481.05,73.56 481.72,71.87 482.40,70.19 483.07,68.52 483.75,66.84 484.42,65.18 485.10,63.52 485.77,61.87 486.45,60.23 487.12,58.59 487.80,56.97 488.47,55.36 489.14,53.76 489.82,52.17 490.49,50.59 491.17,49.03 491.84,47.49 492.52,45.96 493.19,44.44 493.87,42.95 494.54,41.47 495.22,40.01 495.89,38.58 496.57,37.16 497.24,35.77 497.92,34.39 498.59,33.05 499.27,31.72 499.94,30.42 500.62,29.15 501.29,27.90 501.96,26.68 502.64,25.49 503.31,24.33 503.99,23.20 504.66,22.10 505.34,21.03 506.01,20.00 506.69,18.99 507.36,18.02 508.04,17.09 508.71,16.18 509.39,15.32 510.06,14.49 510.74,13.69 511.41,12.94 512.09,12.22 512.76,11.54 513.44,10.89 514.11,10.29 514.79,9.73 515.46,9.20 516.13,8.72 516.81,8.28 517.48,7.88 518.16,7.52 518.83,7.20 519.51,6.92 520.18,6.69 520.86,6.49 521.53,6.34 522.21,6.23 522.88,6.17 523.56,6.15 524.23,6.17 524.91,6.23 525.58,6.33 526.26,6.47 526.93,6.66 527.61,6.89 528.28,7.16 528.96,7.47 529.63,7.82 530.30,8.21 530.98,8.64 531.65,9.11 532.33,9.62 533.00,10.17 533.68,10.76 534.35,11.39 535.03,12.06 535.70,12.76 536.38,13.50 537.05,14.28 537.73,15.09 538.40,15.94 539.08,16.82 539.75,17.74 540.43,18.69 541.10,19.67 541.78,20.69 542.45,21.74 543.12,22.82 543.80,23.92 544.47,25.06 545.15,26.23 545.82,27.42 546.50,28.64 547.17,29.89 547.85,31.17 548.52,32.46 549.20,33.79 549.87,35.13 550.55,36.50 551.22,37.89 551.90,39.30 552.57,40.73 553.25,42.17 553.92,43.64 554.60,45.12 555.27,46.62 555.94,48.14 556.62,49.67 557.29,51.21 557.97,52.77 558.64,54.34 559.32,55.92 559.99,57.52 560.67,59.12 561.34,60.73 562.02,62.35 562.69,63.98 563.37,65.61 564.04,67.25 564.72,68.90 565.39,70.55 566.07,72.20 566.74,73.86 567.42,75.52 568.09,77.18 568.77,78.84 569.44,80.50 570.11,82.16 570.79,83.83 571.46,85.49 572.14,87.14 572.81,88.80 573.49,90.45 574.16,92.10 574.84,93.75 575.51,95.38 576.19,97.02 576.86,98.65 577.54,100.27 578.21,101.88 578.89,103.49 579.56,105.09 580.24,106.68 580.91,108.27 581.59,109.84 582.26,111.41 582.93,112.96 583.61,114.51 584.28,116.04 584.96,117.57 585.63,119.08 586.31,120.58 586.98,122.07 587.66,123.55 588.33,125.02 589.01,126.47 589.68,127.91 590.36,129.34 591.03,130.76 591.71,132.16 592.38,133.55 593.06,134.93 593.73,136.29 594.41,137.64 595.08,138.98 595.76,140.30 596.43,141.61 597.10,142.90 597.78,144.18 598.45,145.45 599.13,146.70 599.80,147.93 600.48,149.16 601.15,150.36 601.83,151.56 602.50,152.74 603.18,153.90 603.85,155.05 604.53,156.19 605.20,157.31 605.88,158.41 606.55,159.50 607.23,160.58 607.90,161.65 608.58,162.69 609.25,163.73 609.92,164.75 610.60,165.76 611.27,166.75 611.95,167.73 612.62,168.69 613.30,169.64 613.97,170.58 614.65,171.50 615.32,172.41 616.00,173.31 616.67,174.19 617.35,175.06 618.02,175.92 618.70,176.76 619.37,177.59 620.05,178.41 620.72,179.21 621.40,180.00 622.07,180.78 622.75,181.55 623.42,182.31 624.09,183.05 624.77,183.78 625.44,184.50 626.12,185.21 626.79,185.90 627.47,186.59 628.14,187.26 628.82,187.92 629.49,188.57 630.17,189.21 630.84,189.84 631.52,190.46 632.19,191.07 632.87,191.67 633.54,192.25 634.22,192.83 634.89,193.40 635.57,193.96 636.24,194.50 636.91,195.04 637.59,195.57 638.26,196.09 638.94,196.60 639.61,197.10 640.29,197.59 640.96,198.07 641.64,198.55 642.31,199.02 642.99,199.47 643.66,199.92 644.34,200.36 645.01,200.80 645.69,201.22 646.36,201.64 647.04,202.05 647.71,202.45 648.39,202.85 649.06,203.23 649.74,203.61 650.41,203.99 651.08,204.35 651.76,204.71 652.43,205.07 653.11,205.41 653.78,205.75 654.46,206.08 655.13,206.41 655.81,206.73 656.48,207.05 657.16,207.36 657.83,207.66 658.51,207.95 659.18,208.25 659.86,208.53 660.53,208.81 661.21,209.09 661.88,209.36 662.56,209.62 663.23,209.88 663.90,210.13 664.58,210.38 665.25,210.63 665.93,210.87 666.60,211.10 667.28,211.33 667.95,211.56 668.63,211.78 669.30,212.00 669.98,212.21 670.65,212.42 671.33,212.62 672.00,212.82 672.68,213.02 673.35,213.21 674.03,213.40 674.70,213.58 675.38,213.77 676.05,213.94 676.73,214.12 677.40,214.29" fill="none" stroke="#ff0000" stroke-width="3" stroke-linejoin="round" stroke-linecap="round"/>
<polyline points="407.50,204.56 408.17,204.20 408.85,203.84 409.52,203.47 410.20,203.09 410.87,202.71 411.55,202.31 412.22,201.91 412.90,201.50 413.57,201.08 414.25,200.65 414.92,200.21 415.60,199.77 416.27,199.31 416.95,198.85 417.62,198.37 418.30,197.89 418.97,197.39 419.65,196.89 420.32,196.37 421.00,195.85 421.67,195.31 422.34,194.77 423.02,194.21 423.69,193.64 424.37,193.07 425.04,192.48 425.72,191.87 426.39,191.26 427.07,190.64 427.74,190.00 428.42,189.35 429.09,188.69 429.77,188.02 430.44,187.33 431.12,186.63 431.79,185.92 432.47,185.20 433.14,184.46 433.82,183.71 434.49,182.95 435.16,182.17 435.84,181.38 436.51,180.57 437.19,179.75 437.86,178.92 438.54,178.07 439.21,177.21 439.89,176.34 440.56,175.45 441.24,174.54 441.91,173.62 442.59,172.69 443.26,171.74 443.94,170.77 444.61,169.79 445.29,168.80 445.96,167.79 446.64,166.76 447.31,165.72 447.99,164.66 448.66,163.59 449.33,162.50 450.01,161.39 450.68,160.27 451.36,159.14 452.03,157.98 452.71,156.82 453.38,155.63 454.06,154.43 454.73,153.22 455.41,151.99 456.08,150.74 456.76,149.47 457.43,148.20 458.11,146.90 458.78,145.59 459.46,144.27 460.13,142.93 460.81,141.57 461.48,140.20 462.15,138.81 462.83,137.41 463.50,135.99 464.18,134.56 464.85,133.12 465.53,131.66 466.20,130.18 466.88,128.70 467.55,127.20 468.23,125.68 468.90,124.15 469.58,122.61 470.25,121.06 470.93,119.49 471.60,117.92 472.28,116.33 472.95,114.73 473.63,113.12 474.30,111.49 474.98,109.86 475.65,108.22 476.32,106.57 477.00,104.91 477.67,103.24 478.35,101.57 479.02,99.88 479.70,98.19 480.37,96.50 481.05,94.79 481.72,93.08 482.40,91.37 483.07,89.65 483.75,87.93 484.42,86.21 485.10,84.48 485.77,82.75 486.45,81.02 487.12,79.29 487.80,77.56 488.47,75.84 489.14,74.11 489.82,72.38 490.49,70.66 491.17,68.94 491.84,67.23 492.52,65.52 493.19,63.82 493.87,62.12 494.54,60.43 495.22,58.75 495.89,57.08 496.57,55.42 497.24,53.77 497.92,52.13 498.59,50.51 499.27,48.89 499.94,47.29 500.62,45.71 501.29,44.14 501.96,42.59 502.64,41.05 503.31,39.54 503.99,38.04 504.66,36.56 505.34,35.11 506.01,33.67 506.69,32.26 507.36,30.87 508.04,29.51 508.71,28.17 509.39,26.85 510.06,25.57 510.74,24.30 511.41,23.07 512.09,21.87 512.76,20.69 513.44,19.55 514.11,18.44 514.79,17.35 515.46,16.31 516.13,15.29 516.81,14.31 517.48,13.36 518.16,12.45 518.83,11.57 519.51,10.73 520.18,9.92 520.86,9.15 521.53,8.42 522.21,7.73 522.88,7.08 523.56,6.47 524.23,5.89 524.91,5.36 525.58,4.86 526.26,4.41 526.93,4.00 527.61,3.63 528.28,3.30 528.96,3.01 529.63,2.76 530.30,2.56 530.98,2.40 531.65,2.28 532.33,2.20 533.00,2.17 533.68,2.18 534.35,2.23 535.03,2.34 535.70,2.49 536.38,2.68 537.05,2.92 537.73,3.21 538.40,3.54 539.08,3.92 539.75,4.35 540.43,4.82 541.10,5.33 541.78,5.89 542.45,6.49 543.12,7.14 543.80,7.82 544.47,8.55 545.15,9.32 545.82,10.14 546.50,10.99 547.17,11.88 547.85,12.81 548.52,13.78 549.20,14.79 549.87,15.83 550.55,16.91 551.22,18.03 551.90,19.18 552.57,20.36 553.25,21.57 553.92,22.82 554.60,24.10 555.27,25.40 555.94,26.74 556.62,28.10 557.29,29.49 557.97,30.91 558.64,32.35 559.32,33.82 559.99,35.31 560.67,36.82 561.34,38.36 562.02,39.91 562.69,41.48 563.37,43.07 564.04,44.68 564.72,46.31 565.39,47.95 566.07,49.60 566.74,51.27 567.42,52.95 568.09,54.65 568.77,56.35 569.44,58.06 570.11,59.79 570.79,61.52 571.46,63.25 572.14,65.00 572.81,66.75 573.49,68.50 574.16,70.26 574.84,72.02 575.51,73.78 576.19,75.54 576.86,77.31 577.54,79.07 578.21,80.83 578.89,82.59 579.56,84.35 580.24,86.11 580.91,87.86 581.59,89.61 582.26,91.35 582.93,93.09 583.61,94.82 584.28,96.54 584.96,98.26 585.63,99.97 586.31,101.67 586.98,103.36 587.66,105.04 588.33,106.72 589.01,108.38 589.68,110.03 590.36,111.67 591.03,113.30 591.71,114.92 592.38,116.52 593.06,118.12 593.73,119.70 594.41,121.27 595.08,122.82 595.76,124.36 596.43,125.89 597.10,127.40 597.78,128.90 598.45,130.38 599.13,131.85 599.80,133.31 600.48,134.74 601.15,136.17 601.83,137.58 602.50,138.97 603.18,140.35 603.85,141.71 604.53,143.06 605.20,144.39 605.88,145.70 606.55,147.00 607.23,148.29 607.90,149.56 608.58,150.81 609.25,152.04 609.92,153.26 610.60,154.47 611.27,155.65 611.95,156.83 612.62,157.98 613.30,159.12 613.97,160.25 614.65,161.36 615.32,162.45 616.00,163.53 616.67,164.59 617.35,165.64 618.02,166.67 618.70,167.68 619.37,168.68 620.05,169.67 620.72,170.64 621.40,171.60 622.07,172.54 622.75,173.47 623.42,174.38 624.09,175.28 624.77,176.16 625.44,177.03 626.12,177.89 626.79,178.73 627.47,179.56 628.14,180.37 628.82,181.18 629.49,181.96 630.17,182.74 630.84,183.50 631.52,184.25 632.19,184.99 632.87,185.71 633.54,186.43 634.22,187.13 634.89,187.81 635.57,188.49 636.24,189.15 636.91,189.81 637.59,190.45 638.26,191.08 638.94,191.70 639.61,192.30 640.29,192.90 640.96,193.49 641.64,194.06 642.31,194.63 642.99,195.18 643.66,195.73 644.34,196.26 645.01,196.79 645.69,197.30 646.36,197.81 647.04,198.31 647.71,198.80 648.39,199.27 649.06,199.74 649.74,200.21 650.41,200.66 651.08,201.10 651.76,201.54 652.43,201.96 653.11,202.38 653.78,202.79 654.46,203.20 655.13,203.59 655.81,203.98 656.48,204.36 657.16,204.74 657.83,205.10 658.51,205.46 659.18,205.81 659.86,206.16 660.53,206.50 661.21,206.83 661.88,207.16 662.56,207.48 663.23,207.79 663.90,208.10 664.58,208.40 665.25,208.69 665.93,208.98 666.60,209.26 667.28,209.54 667.95,209.81 668.63,210.08 669.30,210.34 669.98,210.60 670.65,210.85 671.33,211.10 672.00,211.34 672.68,211.57 673.35,211.81 674.03,212.03 674.70,212.26 675.38,212.47 676.05,212.69 676.73,212.90 677.40,213.10" fill="none" stroke="#000000" stroke-width="3" stroke-linejoin="round" stroke-linecap="round"/>
<polyline points="407.50,207.50 408.17,207.17 408.85,206.84 409.52,206.50 410.20,206.15 410.87,205.80 411.55,205.44 412.22,205.07 412.90,204.70 413.57,204.32 414.25,203.93 414.92,203.53 415.60,203.13 416.27,202.72 416.95,202.30 417.62,201.87 418.30,201.43 418.97,200.99 419.65,200.53 420.32,200.07 421.00,199.60 421.67,199.12 422.34,198.63 423.02,198.13 423.69,197.63 424.37,197.11 425.04,196.58 425.72,196.05 426.39,195.50 427.07,194.95 427.74,194.38 428.42,193.81 429.09,193.22 429.77,192.62 430.44,192.01 431.12,191.40 431.79,190.77 432.47,190.13 433.14,189.47 433.82,188.81 434.49,188.14 435.16,187.45 435.84,186.75 436.51,186.04 437.19,185.32 437.86,184.59 438.54,183.84 439.21,183.08 439.89,182.31 440.56,181.52 441.24,180.73 441.91,179.92 442.59,179.09 443.26,178.26 443.94,177.41 444.61,176.54 445.29,175.67 445.96,174.78 446.64,173.87 447.31,172.95 447.99,172.02 448.66,171.08 449.33,170.12 450.01,169.14 450.68,168.15 451.36,167.15 452.03,166.13 452.71,165.10 453.38,164.05 454.06,162.99 454.73,161.92 455.41,160.83 456.08,159.72 456.76,158.60 457.43,157.47 458.11,156.32 458.78,155.15 459.46,153.97 460.13,152.78 460.81,151.57 461.48,150.35 462.15,149.11 462.83,147.85 463.50,146.59 464.18,145.30 464.85,144.01 465.53,142.70 466.20,141.37 466.88,140.03 467.55,138.68 468.23,137.31 468.90,135.92 469.58,134.53 470.25,133.12 470.93,131.70 471.60,130.26 472.28,128.81 472.95,127.35 473.63,125.87 474.30,124.39 474.98,122.89 475.65,121.38 476.32,119.85 477.00,118.32 477.67,116.77 478.35,115.22 479.02,113.65 479.70,112.08 480.37,110.49 481.05,108.89 481.72,107.29 482.40,105.68 483.07,104.06 483.75,102.43 484.42,100.79 485.10,99.15 485.77,97.50 486.45,95.85 487.12,94.19 487.80,92.52 488.47,90.85 489.14,89.18 489.82,87.50 490.49,85.83 491.17,84.14 491.84,82.46 492.52,80.78 493.19,79.10 493.87,77.42 494.54,75.74 495.22,74.06 495.89,72.38 496.57,70.71 497.24,69.04 497.92,67.38 498.59,65.72 499.27,64.06 499.94,62.42 500.62,60.78 501.29,59.15 501.96,57.53 502.64,55.92 503.31,54.32 503.99,52.73 504.66,51.16 505.34,49.60 506.01,48.05 506.69,46.52 507.36,45.00 508.04,43.50 508.71,42.01 509.39,40.55 510.06,39.10 510.74,37.68 511.41,36.27 512.09,34.88 512.76,33.52 513.44,32.18 514.11,30.87 514.79,29.58 515.46,28.31 516.13,27.07 516.81,25.86 517.48,24.67 518.16,23.52 518.83,22.39 519.51,21.29 520.18,20.23 520.86,19.19 521.53,18.19 522.21,17.22 522.88,16.28 523.56,15.38 524.23,14.51 524.91,13.67 525.58,12.87 526.26,12.11 526.93,11.39 527.61,10.70 528.28,10.05 528.96,9.44 529.63,8.86 530.30,8.33 530.98,7.83 531.65,7.38 532.33,6.96 533.00,6.58 533.68,6.25 534.35,5.96 535.03,5.70 535.70,5.49 536.38,5.32 537.05,5.19 537.73,5.10 538.40,5.06 539.08,5.05 539.75,5.09 540.43,5.18 541.10,5.30 541.78,5.48 542.45,5.69 543.12,5.96 543.80,6.26 544.47,6.61 545.15,7.00 545.82,7.43 546.50,7.91 547.17,8.43 547.85,8.99 548.52,9.59 549.20,10.24 549.87,10.92 550.55,11.64 551.22,12.41 551.90,13.21 552.57,14.05 553.25,14.92 553.92,15.84 554.60,16.79 555.27,17.77 555.94,18.79 556.62,19.85 557.29,20.93 557.97,22.05 558.64,23.20 559.32,24.39 559.99,25.60 560.67,26.84 561.34,28.11 562.02,29.40 562.69,30.73 563.37,32.08 564.04,33.45 564.72,34.85 565.39,36.27 566.07,37.71 566.74,39.17 567.42,40.65 568.09,42.16 568.77,43.68 569.44,45.22 570.11,46.77 570.79,48.34 571.46,49.93 572.14,51.53 572.81,53.14 573.49,54.76 574.16,56.40 574.84,58.04 575.51,59.70 576.19,61.36 576.86,63.03 577.54,64.71 578.21,66.40 578.89,68.08 579.56,69.78 580.24,71.48 580.91,73.18 581.59,74.88 582.26,76.59 582.93,78.29 583.61,80.00 584.28,81.70 584.96,83.40 585.63,85.11 586.31,86.80 586.98,88.50 587.66,90.19 588.33,91.88 589.01,93.56 589.68,95.24 590.36,96.91 591.03,98.57 591.71,100.23 592.38,101.88 593.06,103.52 593.73,105.16 594.41,106.78 595.08,108.40 595.76,110.00 596.43,111.60 597.10,113.18 597.78,114.75 598.45,116.32 599.13,117.87 599.80,119.41 600.48,120.93 601.15,122.45 601.83,123.95 602.50,125.44 603.18,126.92 603.85,128.38 604.53,129.83 605.20,131.27 605.88,132.69 606.55,134.10 607.23,135.49 607.90,136.87 608.58,138.24 609.25,139.59 609.92,140.93 610.60,142.25 611.27,143.56 611.95,144.85 612.62,146.13 613.30,147.39 613.97,148.64 614.65,149.87 615.32,151.09 616.00,152.29 616.67,153.48 617.35,154.65 618.02,155.81 618.70,156.95 619.37,158.08 620.05,159.19 620.72,160.29 621.40,161.37 622.07,162.44 622.75,163.49 623.42,164.53 624.09,165.56 624.77,166.57 625.44,167.56 626.12,168.55 626.79,169.51 627.47,170.47 628.14,171.40 628.82,172.33 629.49,173.24 630.17,174.14 630.84,175.02 631.52,175.89 632.19,176.75 632.87,177.60 633.54,178.43 634.22,179.25 634.89,180.05 635.57,180.84 636.24,181.62 636.91,182.39 637.59,183.15 638.26,183.89 638.94,184.62 639.61,185.34 640.29,186.05 640.96,186.74 641.64,187.43 642.31,188.10 642.99,188.76 643.66,189.41 644.34,190.05 645.01,190.68 645.69,191.30 646.36,191.90 647.04,192.50 647.71,193.09 648.39,193.67 649.06,194.23 649.74,194.79 650.41,195.34 651.08,195.87 651.76,196.40 652.43,196.92 653.11,197.43 653.78,197.93 654.46,198.42 655.13,198.91 655.81,199.38 656.48,199.85 657.16,200.30 657.83,200.75 658.51,201.20 659.18,201.63 659.86,202.05 660.53,202.47 661.21,202.88 661.88,203.28 662.56,203.68 663.23,204.07 663.90,204.45 664.58,204.82 665.25,205.19 665.93,205.55 666.60,205.90 667.28,206.25 667.95,206.59 668.63,206.92 669.30,207.25 669.98,207.57 670.65,207.89 671.33,208.20 672.00,208.50 672.68,208.80 673.35,209.09 674.03,209.38 674.70,209.66 675.38,209.94 676.05,210.21 676.73,210.47 677.40,210.73" fill="none" stroke="#00ff00" stroke-width="3" stroke-linejoin="round" stroke-linecap="round"/>
<rect x="238" y="8.2" width="78.6" height="56.8" fill="#fff" stroke="#ababab" stroke-width="2"/>
<line x1="240" y1="18.5" x2="265" y2="18.5" stroke="#ff0000" stroke-width="3"/>
<line x1="240" y1="36.8" x2="265" y2="36.8" stroke="#000000" stroke-width="3"/>
<line x1="240" y1="54.8" x2="265" y2="54.8" stroke="#00ff00" stroke-width="3"/>
<text x="267.4" y="21.8" style="font-family:'Liberation Serif',serif;font-size:14.5px" textLength="36.2" lengthAdjust="spacingAndGlyphs">Exact</text>
<text transform="translate(266.94,40.00) scale(1.059,1.000)" style="font-family:'Liberation Serif',serif;font-size:14.5px;font-style:italic;" fill="#000">σ</text>
<rect x="281" y="34.45" width="10" height="1.1" fill="#333"/><rect x="281" y="37.50" width="10" height="1.1" fill="#333"/>
<text transform="translate(295.43,40.00) scale(1.025,1.000)" style="font-family:'Liberation Serif',serif;font-size:14.5px;" fill="#000">0</text>
<text transform="translate(302.64,40.00) scale(1.000,1.000)" style="font-family:'Liberation Serif',serif;font-size:14.5px;" fill="#000">.</text>
<text transform="translate(306.73,40.00) scale(1.002,1.000)" style="font-family:'Liberation Serif',serif;font-size:14.5px;" fill="#000">9</text>
<text transform="translate(266.94,58.80) scale(1.059,1.000)" style="font-family:'Liberation Serif',serif;font-size:14.5px;font-style:italic;" fill="#000">σ</text>
<rect x="281" y="52.85" width="10" height="1.1" fill="#333"/><rect x="281" y="55.65" width="10" height="1.1" fill="#333"/>
<text transform="translate(295.43,58.80) scale(1.025,1.000)" style="font-family:'Liberation Serif',serif;font-size:14.5px;" fill="#000">0</text>
<text transform="translate(302.64,58.80) scale(1.000,1.000)" style="font-family:'Liberation Serif',serif;font-size:14.5px;" fill="#000">.</text>
<text transform="translate(306.19,58.80) scale(1.055,1.000)" style="font-family:'Liberation Serif',serif;font-size:14.5px;" fill="#000">7</text>
<rect x="598.4" y="8.0" width="71.8" height="55.5" fill="#fff" stroke="#858585" stroke-width="2.6"/>
<line x1="601" y1="17.6" x2="626" y2="17.6" stroke="#ff0000" stroke-width="3"/>
<line x1="601" y1="35.6" x2="626" y2="35.6" stroke="#000000" stroke-width="3"/>
<line x1="601" y1="54.2" x2="626" y2="54.2" stroke="#00ff00" stroke-width="3"/>
<text x="628.2" y="21.6" style="font-family:'Liberation Serif',serif;font-size:14.5px" textLength="35.8" lengthAdjust="spacingAndGlyphs">Exact</text>
<text transform="translate(627.46,39.90) scale(1.154,1.000)" style="font-family:'Liberation Serif',serif;font-size:14.5px;font-style:italic;" fill="#000">ϑ</text>
<rect x="641" y="34.10" width="10" height="1.1" fill="#333"/><rect x="641" y="36.85" width="10" height="1.1" fill="#333"/>
<text transform="translate(655.64,39.90) scale(1.000,1.000)" style="font-family:'Liberation Serif',serif;font-size:14.5px;" fill="#000">.</text>
<text transform="translate(659.95,39.90) scale(1.049,1.000)" style="font-family:'Liberation Serif',serif;font-size:14.5px;" fill="#000">6</text>
<text transform="translate(627.46,57.50) scale(1.154,1.000)" style="font-family:'Liberation Serif',serif;font-size:14.5px;font-style:italic;" fill="#000">ϑ</text>
<rect x="641" y="52.05" width="10" height="1.1" fill="#333"/><rect x="641" y="54.80" width="10" height="1.1" fill="#333"/>
<text transform="translate(655.64,57.50) scale(1.000,1.000)" style="font-family:'Liberation Serif',serif;font-size:14.5px;" fill="#000">.</text>
<text transform="translate(659.89,57.50) scale(1.118,1.000)" style="font-family:'Liberation Serif',serif;font-size:14.5px;" fill="#000">2</text>
<rect x="121.6" y="154.5" width="44.4" height="21.3" fill="#fff" stroke="#d2d2d2" stroke-width="2"/>
<text transform="translate(125.46,170.00) scale(1.154,1.000)" style="font-family:'Liberation Serif',serif;font-size:14.5px;font-style:italic;" fill="#000">ϑ</text>
<rect x="140.0" y="163.85" width="10.800000000000011" height="1.1" fill="#333"/><rect x="140.0" y="166.85" width="10.800000000000011" height="1.1" fill="#333"/>
<text transform="translate(155.65,170.00) scale(1.058,1.000)" style="font-family:'Liberation Serif',serif;font-size:14.5px;" fill="#000">1</text>
<rect x="475.1" y="150.1" width="46.2" height="23.8" fill="#fff" stroke="#d2d2d2" stroke-width="2"/>
<text transform="translate(479.53,166.00) scale(1.086,1.000)" style="font-family:'Liberation Serif',serif;font-size:14.5px;font-style:italic;" fill="#000">σ</text>
<rect x="493.8" y="159.85" width="10.800000000000011" height="1.1" fill="#333"/><rect x="493.8" y="162.85" width="10.800000000000011" height="1.1" fill="#333"/>
<text transform="translate(509.65,166.00) scale(1.058,1.000)" style="font-family:'Liberation Serif',serif;font-size:14.5px;" fill="#000">1</text>
<text transform="translate(175.83,256.20) scale(1.168,1.076)" style="font-family:'Liberation Serif',serif;font-size:16.8px;" fill="#000">x</text>
<text transform="translate(538.82,255.60) scale(1.243,1.102)" style="font-family:'Liberation Serif',serif;font-size:16.8px;" fill="#000">x</text>
<text transform="translate(12.4,130.4) rotate(-90)" style="font-family:'Liberation Serif',serif;font-size:16.8px" textLength="45.5" lengthAdjust="spacingAndGlyphs">V(<tspan font-style="italic">x</tspan>, <tspan font-style="italic">t</tspan>)</text>
<text transform="translate(366.0,127.8) rotate(-90)" style="font-family:'Liberation Serif',serif;font-size:18.5px" textLength="49" lengthAdjust="spacingAndGlyphs"><tspan font-style="italic">ψ</tspan>(<tspan font-style="italic">x</tspan>, <tspan font-style="italic">t</tspan>)</text>
</svg>
</body></html>
